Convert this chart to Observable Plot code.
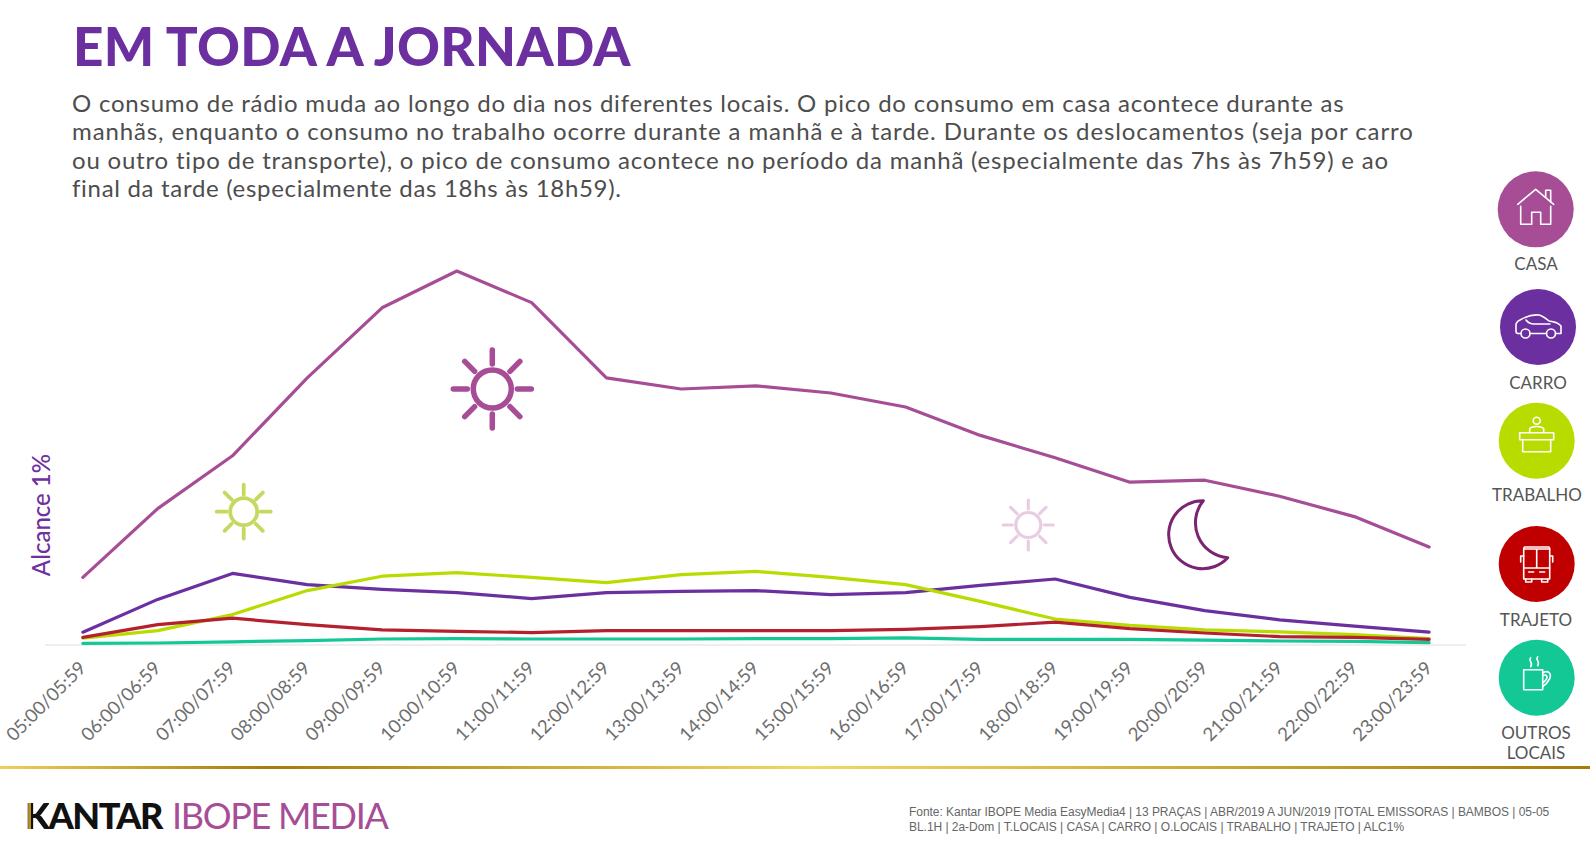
<!DOCTYPE html>
<html lang="pt">
<head>
<meta charset="utf-8">
<script src="https://cdn.jsdelivr.net/npm/d3@7"></script>
<script src="https://cdn.jsdelivr.net/npm/@observablehq/plot@0.6"></script>
<style>
html,body{margin:0;padding:0;background:#fff;width:1590px;height:842px;overflow:hidden}
#page{position:relative;width:1590px;height:842px;font-family:Lato,sans-serif}
#chart{position:absolute;left:0;top:0}
#chart svg{display:block;background:transparent}
.abs{position:absolute;white-space:nowrap}
#title{left:73px;top:14px;font-size:53px;font-weight:900;line-height:64px;color:#6b2fa0;letter-spacing:.33px}
.para{left:72px;font-size:24px;line-height:28px;color:#4d4d4d}
.lg{font-size:17px;line-height:20px;color:#555;text-align:center;transform:translateX(-50%)}
#rule{left:0;top:766px;width:1590px;height:3px;background:linear-gradient(90deg,#eccf5c 0,#a67c0a 270px,#f0d862 810px,#a67c0a 1590px)}
#logo{left:25px;top:792px;font-size:36px;line-height:46px}
#logo b{color:#111;font-weight:900;letter-spacing:-1.5px}
#logo i{font-style:normal;background:linear-gradient(90deg,#111 0 12%,#b58f1f 15% 25%,#111 27%);-webkit-background-clip:text;background-clip:text;color:transparent}
#logo span{color:#a64d96;margin-left:10px;letter-spacing:-1.3px}
#src{left:909px;top:805px;font:12px/15px "Liberation Sans",Arial,sans-serif;color:#666;letter-spacing:-.04px}
#icons{position:absolute;left:0;top:0}
</style>
</head>
<body>
<div id="page">
  <div id="chart"></div>
  <div class="abs" id="title">EM TODA A JORNADA</div>
  <div class="abs para" style="top:89px;letter-spacing:.78px">O consumo de rádio muda ao longo do dia nos diferentes locais. O pico do consumo em casa acontece durante as</div>
  <div class="abs para" style="top:117px;letter-spacing:.89px">manhãs, enquanto o consumo no trabalho ocorre durante a manhã e à tarde. Durante os deslocamentos (seja por carro</div>
  <div class="abs para" style="top:146px;letter-spacing:.8px">ou outro tipo de transporte), o pico de consumo acontece no período da manhã (especialmente das 7hs às 7h59) e ao</div>
  <div class="abs para" style="top:174px;letter-spacing:.69px">final da tarde (especialmente das 18hs às 18h59).</div>
  <svg id="icons" width="1590" height="842" fill="none" stroke-linecap="round" stroke-linejoin="round"></svg>
  <div class="abs lg" style="left:1536px;top:254px">CASA</div>
  <div class="abs lg" style="left:1538px;top:373px">CARRO</div>
  <div class="abs lg" style="left:1537px;top:485px">TRABALHO</div>
  <div class="abs lg" style="left:1536px;top:610px">TRAJETO</div>
  <div class="abs lg" style="left:1536px;top:723px">OUTROS<br>LOCAIS</div>
  <div class="abs" id="rule"></div>
  <div class="abs" id="logo"><b><i>K</i>ANTAR</b><span>IBOPE MEDIA</span></div>
  <div class="abs" id="src">Fonte: Kantar IBOPE Media EasyMedia4 | 13 PRAÇAS | ABR/2019 A JUN/2019 |TOTAL EMISSORAS | BAMBOS | 05-05<br>BL.1H | 2a-Dom | T.LOCAIS | CASA | CARRO | O.LOCAIS | TRABALHO | TRAJETO | ALC1%</div>
</div>
<script>
const horas = ["05:00/05:59","06:00/06:59","07:00/07:59","08:00/08:59","09:00/09:59","10:00/10:59","11:00/11:59","12:00/12:59","13:00/13:59","14:00/14:59","15:00/15:59","16:00/16:59","17:00/17:59","18:00/18:59","19:00/19:59","20:00/20:59","21:00/21:59","22:00/22:59","23:00/23:59"];
const casa = [1.69,3.41,4.73,6.68,8.43,9.35,8.56,6.68,6.40,6.48,6.30,5.95,5.24,4.68,4.07,4.12,3.72,3.21,2.45];
const carro = [0.32,1.14,1.79,1.51,1.39,1.31,1.16,1.31,1.34,1.36,1.26,1.31,1.49,1.65,1.19,0.86,0.63,0.47,0.32];
const trabalho = [0.17,0.36,0.76,1.36,1.72,1.81,1.69,1.56,1.76,1.84,1.69,1.51,1.09,0.65,0.49,0.38,0.33,0.26,0.16];
const trajeto = [0.19,0.51,0.67,0.51,0.38,0.34,0.31,0.36,0.36,0.36,0.36,0.39,0.46,0.57,0.41,0.30,0.21,0.19,0.14];
const outros = [0.04,0.05,0.08,0.11,0.15,0.16,0.15,0.15,0.15,0.16,0.16,0.18,0.14,0.14,0.14,0.12,0.10,0.09,0.06];
const series = [["Casa",casa,"#a64d96"],["Carro",carro,"#6b2fa0"],["Trabalho",trabalho,"#b8dc00"],["Trajeto",trajeto,"#b5202f"],["Outros locais",outros,"#14c896"]];

const chart = Plot.plot({
  width:1590, height:755,
  marginLeft:45, marginRight:124, marginTop:244.5, marginBottom:110.5,
  x:{type:"point", domain:horas, padding:0.5, round:false},
  y:{domain:[0,10]},
  style:{background:"transparent", fontFamily:"Lato, sans-serif"},
  marks:[
    Plot.ruleY([0],{stroke:"#e9e9e9",strokeWidth:1.5}),
    ...series.map(([nome,vals,cor]) => Plot.line(horas,{x:d=>d,y:(d,i)=>vals[i],stroke:cor,strokeWidth:3.2,curve:"linear",title:()=>nome})),
    Plot.axisX({tickSize:0,tickRotate:-45,tickPadding:20,fontSize:18.5,label:null,fill:"#6e6e6e"}),
    Plot.axisY({ticks:[],label:null,tickSize:0}),
    Plot.text(["Alcance 1%"],{frameAnchor:"left",rotate:-90,dx:-3,fontSize:24,fontWeight:500,fill:"#6f30a0",y:()=>3.25,text:d=>d,textAnchor:"middle"})
  ]
});
document.getElementById("chart").appendChild(chart);

const NS="http://www.w3.org/2000/svg", svg=document.getElementById("icons");
function add(html){const g=document.createElementNS(NS,"g");g.innerHTML=html;svg.appendChild(g);}
function sun(cx,cy,r,sw,outer,len,col){
  let s=`<circle cx="${cx}" cy="${cy}" r="${r}" stroke="${col}" stroke-width="${sw}"/>`;
  for(let a=0;a<8;a++){const t=a*Math.PI/4,c=Math.cos(t),n=Math.sin(t);
    s+=`<line x1="${cx+c*(outer-len)}" y1="${cy+n*(outer-len)}" x2="${cx+c*outer}" y2="${cy+n*outer}" stroke="${col}" stroke-width="${sw}"/>`;}
  add(s);
}
sun(492.3,389,19,5.5,39,14,"#a64d96");
sun(243.7,511.7,13.5,3.8,27,10,"#c4d95f");
sun(1028.3,525,12.5,3.2,25,9,"#e8cce2");
add(`<path d="M1203.3 500.7A34 34 0 1 0 1227.7 557.7A35 35 0 0 1 1203.3 500.7Z" stroke="#7b2470" stroke-width="3"/>`);

const discos=[[1535.7,209.3,"#a64d96"],[1538,327,"#6b2fa0"],[1536.7,440.7,"#b8dc00"],[1536.7,564,"#c00000"],[1536.7,677.7,"#14c896"]];
discos.forEach(([x,y,c])=>add(`<circle cx="${x}" cy="${y}" r="38" fill="${c}"/>`));
const w=`stroke="#fff" stroke-width="1.6"`;
add(`<g transform="translate(1535.7,209.3)" ${w}><path d="M-18 -5L0 -20L18 -5"/><path d="M-15 -3V15H-4V3H5V15H15V-3"/><path d="M10 -12V-19H15V-7"/></g>`);
add(`<g transform="translate(1538,327)" ${w}><path d="M-17.5 6.5H-20Q-22 6.5 -22 4V-3Q-21 -6 -18 -7Q-8 -13 1 -12Q5 -11 11 -6Q20 -5 23 -1V6.5H17.5M8.5 6.5H-8"/><path d="M-12 -7Q-9 -3 -4 -3H12"/><circle cx="-12.5" cy="6.5" r="4.5"/><circle cx="13" cy="6.5" r="4.5"/></g>`);
add(`<g transform="translate(1536.7,440.7)" ${w}><circle cx="0" cy="-20" r="3.5"/><path d="M-7 -8V-12C-5 -15 5 -15 7 -12V-8"/><path d="M-17 -8H17V-1H-17Z"/><path d="M-14 -1V11H14V-1"/></g>`);
add(`<g transform="translate(1536.7,564)" ${w}><path d="M-12 -17H12Q13 -17 13 -14V15H-13V-14Q-13 -17 -12 -17Z"/><path d="M0 -15V4M-13 4H13M-13 -15H13"/><path d="M-8 8H-3M3 8H8"/><path d="M-13 -8H-16V-2M13 -8H16V-2"/><path d="M-11 15V18H-5V15M5 15V18H11V15"/></g>`);
add(`<g transform="translate(1536.7,677.7)" ${w}><path d="M-13 -8H6V12H-13Z"/><path d="M6 -5C12 -8 15 -4 13 1C11 5 9 7 6 9M6 -2C10 -4 11 -1 10 1C9 3 8 4 6 5"/><path d="M-6 -20C-9 -17 -3 -15 -6 -11M1 -21C-2 -18 4 -16 1 -12"/></g>`);
</script>
</body>
</html>
